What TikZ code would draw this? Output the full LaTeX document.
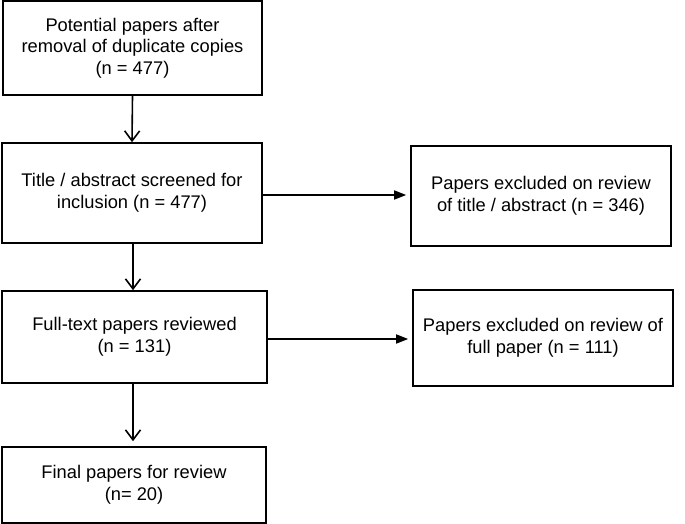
\documentclass[tikz,border=0pt]{standalone}
\usepackage{fontspec}
\setmainfont{Liberation Sans}
\usetikzlibrary{arrows.meta}
\begin{document}
\begin{tikzpicture}[x=1pt,y=-1pt,
  box/.style={draw,line width=1.6pt,rectangle,align=center,inner sep=0pt,
    font=\fontsize{18.3}{21.5}\selectfont},
  varrow/.style={line width=1.6pt,-{Straight Barb[length=10pt,width=15pt,line width=1.6pt]}},
  harrow/.style={line width=1.6pt,-{Triangle[length=12pt,width=9pt]},shorten >=4pt}]
\useasboundingbox (0,0) rectangle (685,524);
\node[box,minimum width=259pt,minimum height=94pt] (b1) at (132.5,48) {Potential papers after\\removal of duplicate copies\\(n = 477)};
\node[box,minimum width=260pt,minimum height=100pt] (b2) at (132,193) {Title / abstract screened for\\inclusion (n = 477)};
\node[box,minimum width=260pt,minimum height=100pt] (b3) at (541,196) {Papers excluded on review\\of title / abstract (n = 346)};
\node[box,minimum width=265pt,minimum height=92pt] (b4) at (134.5,337) {Full-text papers reviewed\\(n = 131)};
\node[box,minimum width=260pt,minimum height=96pt] (b5) at (543,338) {Papers excluded on review of\\full paper (n = 111)};
\node[box,minimum width=264pt,minimum height=76pt] (b6) at (134,485) {Final papers for review\\(n= 20)};
\draw[varrow] (b1.south) -- (b2.north);
\draw[varrow] (b2.south -| 133,0) -- (b4.north -| 133,0);
\draw[varrow,shorten >=5pt] (b4.south -| 133,0) -- (b6.north -| 133,0);
\draw[harrow] (b2.east |- 0,195) -- (b3.west |- 0,195);
\draw[harrow] (b4.east |- 0,339) -- (b5.west |- 0,339);
\end{tikzpicture}
\end{document}
